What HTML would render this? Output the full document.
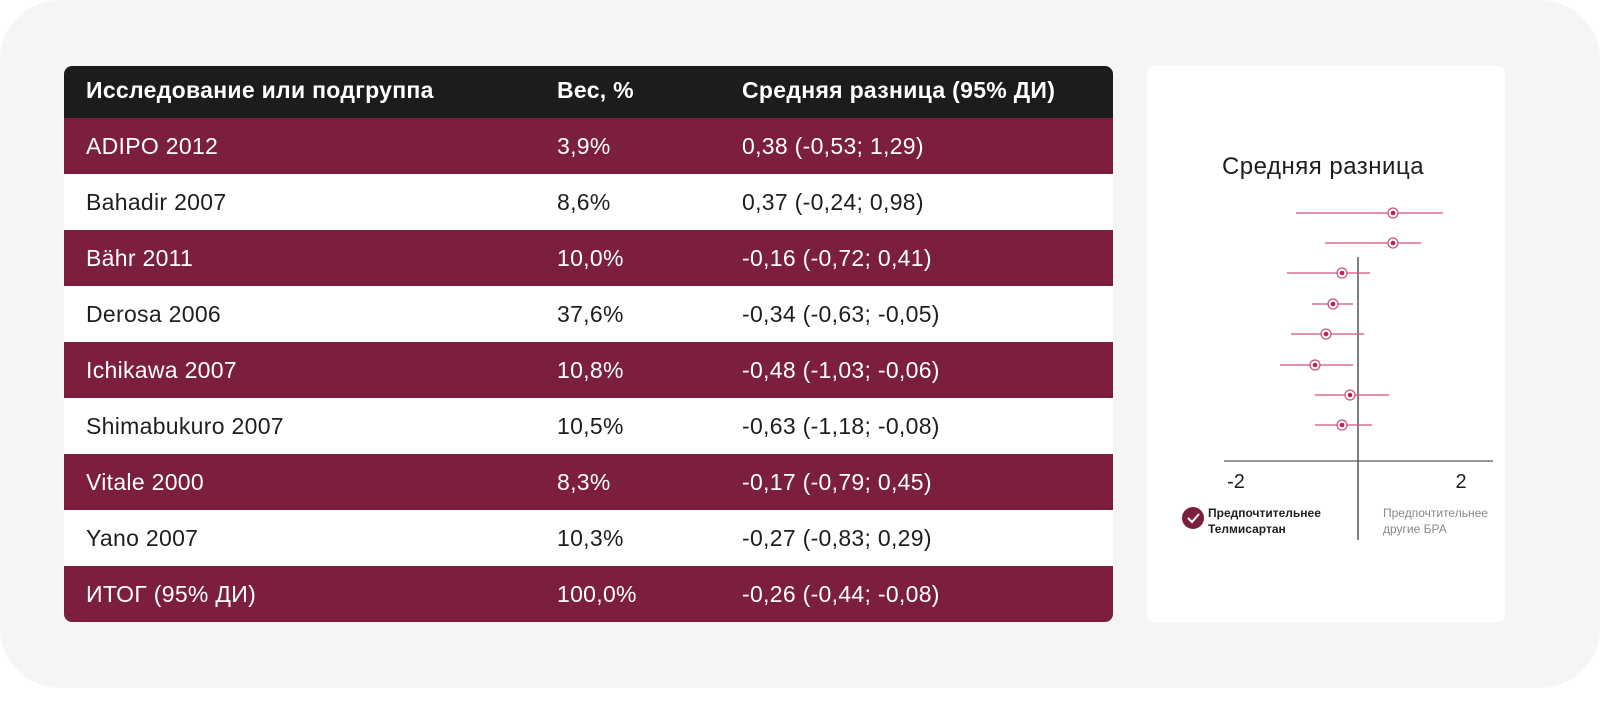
<!DOCTYPE html>
<html><head><meta charset="utf-8"><style>
body{margin:0;width:1600px;height:702px;background:#fff;font-family:"Liberation Sans","DejaVu Sans",sans-serif;overflow:hidden}
.card{position:absolute;left:0;top:0;width:1600px;height:688px;background:#f5f5f5;border-radius:60px}
.tbl{position:absolute;left:64px;top:66px;width:1049px;height:556px;border-radius:8px;overflow:hidden;background:#fff}
.row{position:absolute;left:0;width:1049px;height:56px;font-size:23px;line-height:56px;color:#1e1e1e;letter-spacing:0.3px}
.row span{position:absolute}
.m{background:#7c1e3e;color:#fff}
.h{background:#1c1c1c;color:#fff;font-weight:bold;height:52px;line-height:48px;top:0}
.c1{left:22px}.c2{left:493px}.c3{left:678px}
.panel{position:absolute;left:1147px;top:66px;width:358px;height:556px;background:#fff;border-radius:8px}
</style></head><body>
<div class="card"></div>
<div class="tbl">
<div class="row h"><span class="c1">Исследование или подгруппа</span><span class="c2">Вес, %</span><span class="c3">Средняя разница (95% ДИ)</span></div>
<div class="row m" style="top:52px"><span class="c1">ADIPO 2012</span><span class="c2">3,9%</span><span class="c3">0,38 (-0,53; 1,29)</span></div>
<div class="row" style="top:108px"><span class="c1">Bahadir 2007</span><span class="c2">8,6%</span><span class="c3">0,37 (-0,24; 0,98)</span></div>
<div class="row m" style="top:164px"><span class="c1">Bähr 2011</span><span class="c2">10,0%</span><span class="c3">-0,16 (-0,72; 0,41)</span></div>
<div class="row" style="top:220px"><span class="c1">Derosa 2006</span><span class="c2">37,6%</span><span class="c3">-0,34 (-0,63; -0,05)</span></div>
<div class="row m" style="top:276px"><span class="c1">Ichikawa 2007</span><span class="c2">10,8%</span><span class="c3">-0,48 (-1,03; -0,06)</span></div>
<div class="row" style="top:332px"><span class="c1">Shimabukuro 2007</span><span class="c2">10,5%</span><span class="c3">-0,63 (-1,18; -0,08)</span></div>
<div class="row m" style="top:388px"><span class="c1">Vitale 2000</span><span class="c2">8,3%</span><span class="c3">-0,17 (-0,79; 0,45)</span></div>
<div class="row" style="top:444px"><span class="c1">Yano 2007</span><span class="c2">10,3%</span><span class="c3">-0,27 (-0,83; 0,29)</span></div>
<div class="row m" style="top:500px"><span class="c1">ИТОГ (95% ДИ)</span><span class="c2">100,0%</span><span class="c3">-0,26 (-0,44; -0,08)</span></div>
</div>
<div class="panel"></div>
<svg style="position:absolute;left:0;top:0" width="1600" height="702">
<text x="1323" y="174" text-anchor="middle" font-size="24" fill="#1e1e1e" letter-spacing="0.5" font-family="Liberation Sans, sans-serif">Средняя разница</text>
<line x1="1224" y1="461" x2="1493" y2="461" stroke="#777" stroke-width="1.5"/>
<line x1="1358" y1="257" x2="1358" y2="540" stroke="#555" stroke-width="1.5"/>
<text x="1236" y="488" text-anchor="middle" font-size="20" fill="#1e1e1e">-2</text>
<text x="1461" y="488" text-anchor="middle" font-size="20" fill="#1e1e1e">2</text>
<g stroke="#d0557a" stroke-width="1.3" fill="#fff">
<line x1="1296" y1="213" x2="1443" y2="213"/><line x1="1325" y1="243" x2="1421" y2="243"/>
<line x1="1287" y1="273" x2="1370" y2="273"/><line x1="1312" y1="304" x2="1353" y2="304"/>
<line x1="1291" y1="334" x2="1364" y2="334"/><line x1="1280" y1="365" x2="1353" y2="365"/>
<line x1="1315" y1="395" x2="1389" y2="395"/><line x1="1315" y1="425" x2="1372" y2="425"/>
<circle cx="1393" cy="213" r="5"/><circle cx="1393" cy="243" r="5"/><circle cx="1342" cy="273" r="5"/><circle cx="1333" cy="304" r="5"/>
<circle cx="1326" cy="334" r="5"/><circle cx="1315" cy="365" r="5"/><circle cx="1350" cy="395" r="5"/><circle cx="1342" cy="425" r="5"/>
</g>
<g fill="#c41e4a">
<circle cx="1393" cy="213" r="2.3"/><circle cx="1393" cy="243" r="2.3"/><circle cx="1342" cy="273" r="2.3"/><circle cx="1333" cy="304" r="2.3"/>
<circle cx="1326" cy="334" r="2.3"/><circle cx="1315" cy="365" r="2.3"/><circle cx="1350" cy="395" r="2.3"/><circle cx="1342" cy="425" r="2.3"/>
</g>
<circle cx="1193" cy="518" r="11" fill="#7c1e3e"/>
<path d="M1188 518 l4 4 l7 -8" stroke="#fff" stroke-width="2" fill="none"/>
<text x="1208" y="517" font-size="12" font-weight="bold" fill="#1e1e1e">Предпочтительнее</text>
<text x="1208" y="533" font-size="12" font-weight="bold" fill="#1e1e1e">Телмисартан</text>
<text x="1383" y="517" font-size="12" fill="#888">Предпочтительнее</text>
<text x="1383" y="533" font-size="12" fill="#888">другие БРА</text>
</svg>
</body></html>
